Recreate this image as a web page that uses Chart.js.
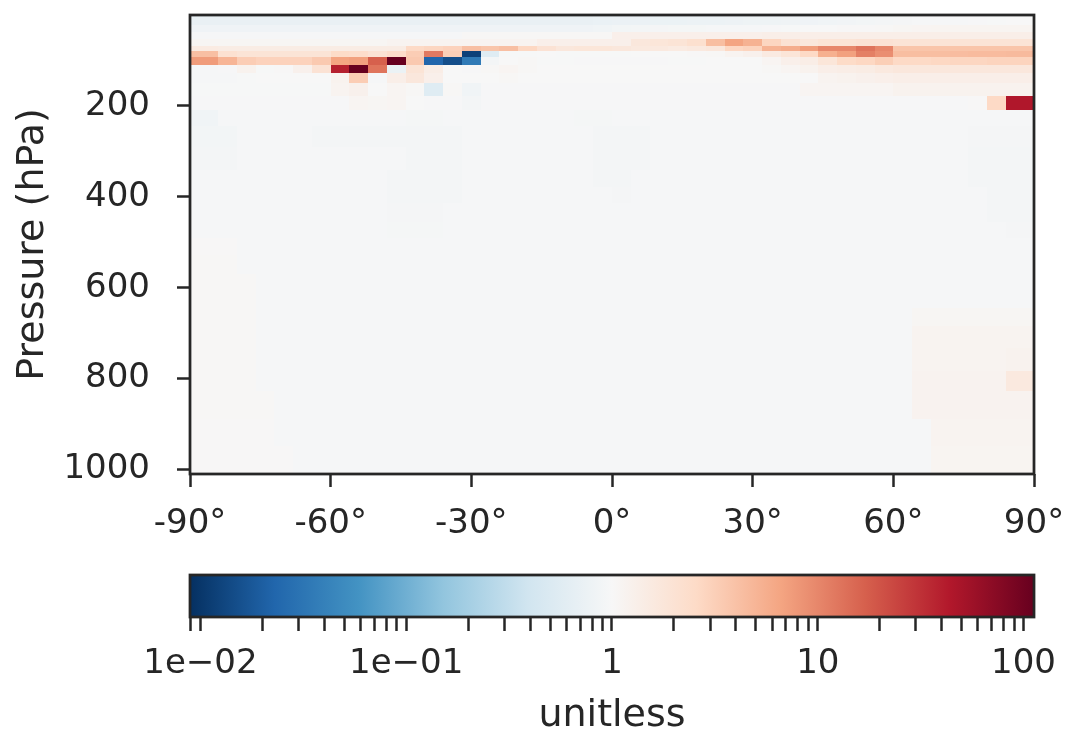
<!DOCTYPE html>
<html><head><meta charset="utf-8">
<script src="https://cdn.jsdelivr.net/npm/chart.js@4.4.1/dist/chart.umd.min.js"></script>
<style>
html,body{margin:0;padding:0;background:#fff;width:1066px;height:735px;overflow:hidden}
#main{position:absolute;left:0;top:0}
#cbar{position:absolute;left:0;top:560px}
</style></head><body>
<canvas id="main" width="1066" height="560"></canvas>
<canvas id="cbar" width="1066" height="175"></canvas>
<script>
// ---------------- data ----------------
const latEdges = [-90,-88,-84,-80,-76,-72,-68,-64,-60,-56,-52,-48,-44,-40,-36,-32,-28,-24,-20,-16,-12,-8,-4,0,4,8,12,16,20,24,28,32,36,40,44,48,52,56,60,64,68,72,76,80,84,88,90];
const pressureEdges = [0,5,23,37.5,52,68,79,92,110,128,150,178,209,245,290,340,379,414,455,491,528,570,609,644,685,732,784,828,890,949,1010];
const xTicks = [-90,-60,-30,0,30,60,90];
const yTicks = [200,400,600,800,1000];
const cbarMin = 0.0089, cbarMax = 112.4;
const cbarTicks = [0.009,0.01,0.02,0.03,0.04,0.05,0.06,0.07,0.08,0.09,0.1,0.2,0.3,0.4,0.5,0.6,0.7,0.8,0.9,1,2,3,4,5,6,7,8,9,10,20,30,40,50,60,70,80,90,100];
const cbarTickLabels = ['','1e\u221202','','','','','','','','','1e\u221201','','','','','','','','','1','','','','','','','','','10','','','','','','','','','100'];

// ratio values, one array per pressure layer (top to bottom), 46 latitude cells each
const row00 = [0.7,0.7,0.7,0.7,0.7,0.7,0.7,0.7,0.7,0.7, 0.7,0.7,0.7,0.7,0.7,0.7,0.7,0.7,0.7,0.7, 0.7,0.7,0.72,0.74,0.74,0.75,0.75,0.76,0.77,0.78, 0.79,0.8,0.81,0.82,0.84,0.86,0.88,0.9,0.92,0.94, 0.95,0.96,0.97,0.98,0.99,1];
const row01 = [0.7,0.7,0.7,0.7,0.7,0.7,0.7,0.7,0.7,0.7, 0.7,0.7,0.7,0.7,0.7,0.7,0.7,0.7,0.7,0.7, 0.7,0.7,0.72,0.74,0.74,0.75,0.75,0.76,0.77,0.78, 0.79,0.8,0.81,0.82,0.84,0.86,0.88,0.9,0.92,0.94, 0.95,0.96,0.97,0.98,0.99,1];
const row02 = [0.83,0.83,0.83,0.83,0.83,0.83,0.83,0.83,0.83,0.83, 0.83,0.83,0.83,0.83,0.83,0.83,0.83,0.83,0.83,0.83, 0.83,0.83,0.85,0.88,0.9,0.92,0.93,0.93,0.94,0.95, 0.96,0.97,0.98,1,1,1.02,1.03,1.05,1.08,1.1, 1.12,1.12,1.12,1.12,1.12,1.12];
const row03 = [0.95,0.95,0.95,0.95,0.95,0.95,0.95,0.95,0.95,0.95, 0.95,0.95,0.95,0.95,0.95,1.05,1.05,1.05,1.05,1.05, 1.05,1.05,1.05,1.3,1.3,1.3,1.3,1.3,1.3,1.3, 1.3,1.35,1.35,1.35,1.35,1.35,1.35,1.35,1.35,1.35, 1.35,1.35,1.35,1.35,1.35,1.35];
const row04 = [1.08,1.08,1.08,1.08,1.08,1.08,1.08,1.08,1.08,1.08, 1.08,1.15,1.15,1.15,1.15,1.15,1.15,1.15,1.15,1.3, 1.3,1.3,1.3,1.3,1.7,1.8,1.9,2.2,4.3,6.6, 5.3,2.8,2,1.7,1.9,1.9,2,2,1.9,1.9, 1.9,1.9,1.9,1.9,1.9,1.9];
const row05 = [1.5,1.5,1.45,1.45,1.45,1.45,1.45,1.45,1.45,1.45, 1.45,1.45,2.6,2.8,3,4.2,3.8,4.2,2.7,2, 1.7,1.8,1.8,1.7,1.6,1.6,1.5,1.6,1.7,2.7, 2.9,5.2,5.7,7.3,10,10,13,10,3.8,3.8, 3.8,3.8,3.8,3.8,3.8,3.8];
const row06 = [4.2,4.2,2.1,1.9,1.9,1.9,1.9,1.9,2.5,2.4, 2,2.4,3.3,12,3.2,0.012,0.55,0.98,0.98,1, 0.98,0.98,0.98,0.98,1,1,1,1.02,1.05,1.15, 1.25,1.55,1.85,2.6,5.5,7,11,9,4.3,4.3, 4.3,4.4,4.5,4.5,4.6,4.6];
const row07 = [7.5,7.5,5,3.3,3,3,3,3.5,6.6,7, 17,120,3.5,0.023,0.015,0.035,0.9,1,1.05,0.98, 0.98,0.97,0.97,0.97,0.97,0.97,0.98,0.98,1,1, 1,1.1,1.3,1.4,1.8,2.5,2.7,3.2,2.6,2.6, 2.7,2.8,2.8,2.9,2.9,2.9];
const row08 = [0.95,0.95,0.97,1.2,0.98,1.02,1.25,2,40,120, 13,0.75,1.9,1.4,1,0.97,1.05,1.1,1.05,1, 1,1,1,1,1,1,1,1,1,1, 1,1.05,1.1,1.2,1.35,1.4,1.45,1.6,1.7,1.7, 1.7,1.7,1.7,1.7,1.7,1.7];
const row09 = [0.95,0.95,0.95,0.98,1,1,1,1,1.2,3.3, 0.96,1.35,1.7,1.3,1,1,1,1.05,1,1, 1,1,1,1,1,1,1,1,1,1, 1,1,1,1,1.15,1.2,1.25,1.3,1.35,1.35, 1.35,1.35,1.35,1.35,1.35,1.35];
const row10 = [0.98,0.98,0.98,0.98,0.98,0.98,0.98,0.98,1.15,1.25, 1,1.1,1.05,0.55,1.05,0.85,0.97,0.97,0.97,0.97, 0.97,0.97,0.97,0.97,0.97,0.97,0.97,0.97,0.97,0.97, 0.97,0.97,0.97,1.1,1.1,1.1,1.1,1.1,1.2,1.2, 1.2,1.2,1.2,1.2,1.2,1.2];
const row11 = [0.97,0.97,0.97,0.97,0.97,0.97,0.97,0.97,0.97,1.1, 1.08,1.1,1,0.97,0.97,0.9,0.97,0.97,0.97,0.97, 0.97,0.97,0.97,0.97,0.97,0.97,0.97,0.97,0.97,0.97, 0.97,0.97,0.97,0.97,0.97,0.97,0.97,0.97,0.97,0.97, 0.97,0.97,1.02,2.6,45,45];
const row12 = [0.85,0.85,0.96,0.96,0.96,0.96,0.96,0.96,0.96,0.96, 0.96,0.96,0.93,0.93,0.96,0.96,0.96,0.96,0.96,0.96, 0.96,0.93,0.93,0.96,0.96,0.96,0.96,0.96,0.96,0.96, 0.96,0.96,0.96,0.96,0.96,0.96,0.96,0.96,0.96,0.96, 0.96,0.96,0.96,0.96,0.95,0.95];
const row13 = [0.88,0.88,0.88,0.95,0.95,0.95,0.95,0.9,0.9,0.9, 0.9,0.9,0.9,0.9,0.9,0.95,0.95,0.95,0.95,0.95, 0.95,0.95,0.9,0.9,0.9,0.95,0.95,0.95,0.95,0.95, 0.95,0.95,0.95,0.95,0.95,0.95,0.95,0.95,0.95,0.95, 0.95,0.95,0.92,0.92,0.92,0.92];
const row14 = [0.9,0.9,0.9,0.95,0.95,0.95,0.95,0.95,0.95,0.95, 0.95,0.95,0.9,0.9,0.9,0.95,0.95,0.95,0.95,0.95, 0.95,0.95,0.9,0.9,0.9,0.95,0.95,0.95,0.95,0.95, 0.95,0.95,0.95,0.95,0.95,0.95,0.95,0.95,0.95,0.95, 0.95,0.95,0.9,0.9,0.9,0.9];
const row15 = [0.95,0.95,0.95,0.95,0.95,0.95,0.95,0.95,0.95,0.95, 0.95,0.9,0.9,0.9,0.9,0.95,0.95,0.95,0.95,0.95, 0.95,0.95,0.91,0.91,0.95,0.95,0.95,0.95,0.95,0.95, 0.95,0.95,0.95,0.95,0.95,0.95,0.95,0.95,0.95,0.95, 0.95,0.95,0.9,0.9,0.9,0.9];
const row16 = [0.95,0.95,0.95,0.95,0.95,0.95,0.95,0.95,0.95,0.95, 0.95,0.9,0.9,0.9,0.9,0.95,0.95,0.95,0.95,0.95, 0.95,0.95,0.95,0.92,0.95,0.95,0.95,0.95,0.95,0.95, 0.95,0.95,0.95,0.95,0.95,0.95,0.95,0.95,0.95,0.95, 0.95,0.95,0.95,0.9,0.9,0.9];
const row17 = [0.95,0.95,0.95,0.95,0.95,0.95,0.95,0.95,0.95,0.95, 0.95,0.92,0.92,0.92,0.95,0.95,0.95,0.95,0.95,0.95, 0.95,0.95,0.95,0.95,0.95,0.95,0.95,0.95,0.95,0.95, 0.95,0.95,0.95,0.95,0.95,0.95,0.95,0.95,0.95,0.95, 0.95,0.95,0.95,0.9,0.9,0.9];
const row18 = [0.95,0.95,0.95,0.95,0.95,0.95,0.95,0.95,0.95,0.95, 0.95,0.93,0.93,0.93,0.95,0.95,0.95,0.95,0.95,0.95, 0.96,0.96,0.96,0.96,0.96,0.96,0.96,0.96,0.96,0.96, 0.96,0.96,0.96,0.96,0.96,0.96,0.96,0.96,0.96,0.96, 0.95,0.95,0.95,0.95,0.92,0.92];
const row19 = [1.03,1.03,1.03,0.96,0.96,0.96,0.96,0.96,0.96,0.96, 0.96,0.96,0.96,0.96,0.96,0.96,0.96,0.96,0.96,0.96, 0.96,0.96,0.96,0.96,0.96,0.96,0.96,0.96,0.96,0.96, 0.96,0.96,0.96,0.96,0.96,0.96,0.96,0.96,0.96,0.96, 0.96,0.96,0.96,0.96,0.96,0.96];
const row20 = [1.04,1.04,1.04,0.96,0.96,0.96,0.96,0.96,0.96,0.96, 0.96,0.96,0.96,0.96,0.96,0.96,0.96,0.96,0.96,0.96, 0.96,0.96,0.96,0.96,0.96,0.96,0.96,0.96,0.96,0.96, 0.96,0.96,0.96,0.96,0.96,0.96,0.96,0.96,0.96,0.96, 0.96,0.96,0.96,0.96,0.96,0.96];
const row21 = [1.05,1.05,1.05,1.05,0.96,0.96,0.96,0.96,0.96,0.96, 0.96,0.96,0.96,0.96,0.96,0.96,0.96,0.96,0.96,0.96, 0.96,0.96,0.96,0.96,0.96,0.96,0.96,0.96,0.96,0.96, 0.96,0.96,0.96,0.96,0.96,0.96,0.96,0.96,0.96,0.96, 0.96,0.96,0.96,0.96,0.96,0.96];
const row22 = [1.05,1.05,1.05,1.05,0.96,0.96,0.96,0.96,0.96,0.96, 0.96,0.96,0.96,0.96,0.96,0.96,0.96,0.96,0.96,0.96, 0.96,0.96,0.96,0.96,0.96,0.96,0.96,0.96,0.96,0.96, 0.96,0.96,0.96,0.96,0.96,0.96,0.96,0.96,0.96,0.96, 0.96,0.96,0.96,0.96,0.96,0.96];
const row23 = [1.05,1.05,1.05,1.05,0.96,0.96,0.96,0.96,0.96,0.96, 0.96,0.96,0.96,0.96,0.96,0.96,0.96,0.96,0.96,0.96, 0.96,0.96,0.96,0.96,0.96,0.96,0.96,0.96,0.96,0.96, 0.96,0.96,0.96,0.96,0.96,0.96,0.96,0.96,0.96,1.08, 1.08,1.08,1.08,1.08,1.08,1.08];
const row24 = [1.05,1.05,1.05,1.05,0.96,0.96,0.96,0.96,0.96,0.96, 0.96,0.96,0.96,0.96,0.96,0.96,0.96,0.96,0.96,0.96, 0.96,0.96,0.96,0.96,0.96,0.96,0.96,0.96,0.96,0.96, 0.96,0.96,0.96,0.96,0.96,0.96,0.96,0.96,0.96,1.15, 1.15,1.15,1.15,1.15,1.15,1.15];
const row25 = [1.05,1.05,1.05,1.05,0.96,0.96,0.96,0.96,0.96,0.96, 0.96,0.96,0.96,0.96,0.96,0.96,0.96,0.96,0.96,0.96, 0.96,0.96,0.96,0.96,0.96,0.96,0.96,0.96,0.96,0.96, 0.96,0.96,0.96,0.96,0.96,0.96,0.96,0.96,0.96,1.15, 1.15,1.15,1.15,1.15,1.2,1.2];
const row26 = [1.05,1.05,1.05,1.05,0.96,0.96,0.96,0.96,0.96,0.96, 0.96,0.96,0.96,0.96,0.96,0.96,0.96,0.96,0.96,0.96, 0.96,0.96,0.96,0.96,0.96,0.96,0.96,0.96,0.96,0.96, 0.96,0.96,0.96,0.96,0.96,0.96,0.96,0.96,0.96,1.18, 1.18,1.18,1.18,1.18,1.6,1.6];
const row27 = [1.04,1.04,1.04,1.04,1.04,0.96,0.96,0.96,0.96,0.96, 0.96,0.96,0.96,0.96,0.96,0.96,0.96,0.96,0.96,0.96, 0.96,0.96,0.96,0.96,0.96,0.96,0.96,0.96,0.96,0.96, 0.96,0.96,0.96,0.96,0.96,0.96,0.96,0.96,0.96,1.18, 1.18,1.18,1.18,1.18,1.18,1.18];
const row28 = [1.03,1.03,1.03,1.03,1.03,0.96,0.96,0.96,0.96,0.96, 0.96,0.96,0.96,0.96,0.96,0.96,0.96,0.96,0.96,0.96, 0.96,0.96,0.96,0.96,0.96,0.96,0.96,0.96,0.96,0.96, 0.96,0.96,0.96,0.96,0.96,0.96,0.96,0.96,0.96,0.96, 1.15,1.15,1.15,1.15,1.15,1.15];
const row29 = [1.03,1.03,1.03,1.03,1.03,1.03,0.96,0.96,0.96,0.96, 0.96,0.96,0.96,0.96,0.96,0.96,0.96,0.96,0.96,0.96, 0.96,0.96,0.96,0.96,0.96,0.96,0.96,0.96,0.96,0.96, 0.96,0.96,0.96,0.96,0.96,0.96,0.96,0.96,0.96,0.96, 1.12,1.12,1.12,1.12,1.12,1.12];
const ratioRows = [row00,row01,row02,row03,row04,row05,row06,row07,row08,row09,row10,row11,row12,row13,row14,row15,row16,row17,row18,row19,row20,row21,row22,row23,row24,row25,row26,row27,row28,row29];

// ---------------- style ----------------
const INK = '#262626';
const FONT = 'DejaVu Sans';
const FS = 34;
const TS = 38;
const RDBU_R = ['#053061','#2166ac','#4393c3','#92c5de','#d1e5f0','#f7f7f7','#fddbc7','#f4a582','#d6604d','#b2182b','#67001f'];
const RGB = RDBU_R.map(h => [parseInt(h.slice(1,3),16), parseInt(h.slice(3,5),16), parseInt(h.slice(5,7),16)]);
function cmapT(t) {
  t = Math.max(0, Math.min(1, t));
  const s = t * (RGB.length - 1);
  const i = Math.min(RGB.length - 2, Math.floor(s));
  const f = s - i;
  const a = RGB[i], b = RGB[i+1];
  return 'rgb(' + [0,1,2].map(k => Math.round(a[k] + (b[k]-a[k])*f)).join(',') + ')';
}
function cmap(v) {
  const lo = Math.log10(cbarMin), hi = Math.log10(cbarMax);
  return cmapT((Math.log10(v) - lo) / (hi - lo));
}

Chart.defaults.font.family = FONT;
Chart.defaults.color = INK;

function frame(chart) {
  const {ctx, chartArea: a} = chart;
  ctx.save();
  ctx.strokeStyle = INK;
  ctx.lineWidth = 2.75;
  ctx.strokeRect(a.left, a.top, a.right - a.left, a.bottom - a.top);
  ctx.restore();
}

const heatmapPlugin = {
  id: 'heatmap',
  beforeDatasetsDraw(chart) {
    const {ctx, chartArea: a, scales: {x, y}} = chart;
    ctx.save();
    ctx.beginPath();
    ctx.rect(a.left, a.top, a.right - a.left, a.bottom - a.top);
    ctx.clip();
    for (let i = 0; i < ratioRows.length; i++) {
      const y0 = Math.round(y.getPixelForValue(pressureEdges[i]));
      const y1 = Math.round(y.getPixelForValue(pressureEdges[i+1]));
      for (let j = 0; j < latEdges.length - 1; j++) {
        const x0 = Math.round(x.getPixelForValue(latEdges[j]));
        const x1 = Math.round(x.getPixelForValue(latEdges[j+1]));
        ctx.fillStyle = cmap(ratioRows[i][j]);
        ctx.fillRect(x0, Math.min(y0,y1), x1 - x0, Math.abs(y1 - y0));
      }
    }
    ctx.restore();
  },
  afterDraw(chart) { frame(chart); }
};

const colorbarPlugin = {
  id: 'colorbar',
  beforeDatasetsDraw(chart) {
    const {ctx, chartArea: a, scales: {x}} = chart;
    const x0 = x.getPixelForValue(cbarMin), x1 = x.getPixelForValue(cbarMax);
    const g = ctx.createLinearGradient(x0, 0, x1, 0);
    RDBU_R.forEach((c, i) => g.addColorStop(i / (RDBU_R.length - 1), c));
    ctx.save();
    ctx.fillStyle = g;
    ctx.fillRect(a.left, a.top, a.right - a.left, a.bottom - a.top);
    ctx.restore();
  },
  afterDraw(chart) { frame(chart); }
};

const tickGrid = {drawOnChartArea: false, drawTicks: true, tickLength: 13, tickWidth: 2.5, tickColor: INK};

new Chart(document.getElementById('main'), {
  type: 'scatter',
  data: {datasets: []},
  plugins: [heatmapPlugin],
  options: {
    responsive: false, animation: false, devicePixelRatio: 1,
    layout: {padding: {left: 0, right: 32, top: 15, bottom: 0}},
    plugins: {legend: {display: false}, tooltip: {enabled: false}},
    scales: {
      x: {
        type: 'linear', min: -90, max: 90,
        afterBuildTicks: s => { s.ticks = xTicks.map(v => ({value: v})); },
        afterFit: s => { s.height = 86; s.paddingLeft = 0; s.paddingRight = 0; },
        ticks: {autoSkip: false, maxRotation: 0, padding: 17, color: INK, font: {size: FS}, callback: v => String(v) + '\u00b0'},
        grid: tickGrid,
        border: {display: false}
      },
      y: {
        type: 'linear', min: 0, max: 1010, reverse: true,
        afterBuildTicks: s => { s.ticks = yTicks.map(v => ({value: v})); },
        afterFit: s => { s.width = 190; s.paddingTop = 0; s.paddingBottom = 0; },
        ticks: {autoSkip: false, padding: 27, color: INK, font: {size: FS}, callback: v => String(v)},
        grid: tickGrid,
        border: {display: false},
        title: {display: true, text: 'Pressure (hPa)', color: INK, font: {size: TS, lineHeight: 1}, padding: {top: 14, bottom: 0}}
      }
    }
  }
});

new Chart(document.getElementById('cbar'), {
  type: 'scatter',
  data: {datasets: []},
  plugins: [colorbarPlugin],
  options: {
    responsive: false, animation: false, devicePixelRatio: 1,
    layout: {padding: {left: 190, right: 32, top: 15, bottom: 0}},
    plugins: {legend: {display: false}, tooltip: {enabled: false}},
    scales: {
      x: {
        type: 'logarithmic', min: cbarMin, max: cbarMax,
        afterBuildTicks: s => { s.ticks = cbarTicks.map(v => ({value: v})); },
        afterFit: s => { s.height = 118; s.paddingLeft = 0; s.paddingRight = 0; },
        ticks: {autoSkip: false, maxRotation: 0, padding: 13, color: INK, font: {size: FS},
                callback: (v, i) => cbarTickLabels[i]},
        grid: Object.assign({}, tickGrid, {tickLength: 14}),
        border: {display: false},
        title: {display: true, text: 'unitless', color: INK, font: {size: TS, lineHeight: 1}, padding: {top: 0, bottom: 0}}
      },
      y: {display: false, min: 0, max: 1}
    }
  }
});
</script>
</body></html>
